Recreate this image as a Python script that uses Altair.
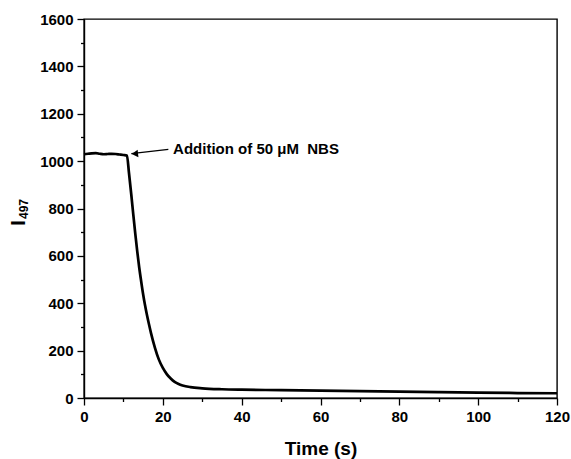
import altair as alt
import pandas as pd

# data
time_s = [0, 1, 2, 3, 4, 5, 6, 7, 8, 9, 10, 10.9, 11.4, 12.0, 12.5, 13.0, 13.5,
          14.0, 14.5, 15.0, 15.5, 16.0, 16.5, 17.0, 18.0, 19.0, 20.0, 21.0, 22.0,
          23.0, 24.0, 25.0, 27.0, 30.0, 35, 40, 50, 60, 70, 80, 90, 100, 110, 120]
intensity = [1029, 1031, 1033, 1034, 1031, 1029, 1030, 1031, 1030, 1028, 1026,
             1024, 952, 858, 775, 695, 620, 552, 493, 438, 390, 348, 310, 274,
             212, 162, 127, 101, 82, 68, 59, 53, 46, 41, 37, 35, 33, 31, 29, 27,
             25, 23, 21, 20]

x_major = list(range(0, 121, 20))
x_minor = list(range(10, 121, 20))
y_major = list(range(0, 1601, 200))
y_minor = list(range(100, 1601, 200))

note_text = ["Addition of 50 \u03bcM\u00a0 NBS"]
note_x = [22.6]
note_y = [1030]
arrow_x = [21.4]
arrow_x2 = [12.0]
arrow_y = [1050]
arrow_y2 = [1032]
head_x = [12.9]
head_y = [1031]

FONT = "Liberation Sans"

df = pd.DataFrame({"t": time_s, "v": intensity})

xscale = alt.Scale(domain=[0, 120], nice=False, zero=False)
yscale = alt.Scale(domain=[0, 1600], nice=False, zero=False)

x_axis = alt.Axis(
    values=x_major, format="d", orient="bottom", tickSize=7,
    labelOverlap=False, labelFlush=False, grid=False,
    title="Time (s)", titleFontSize=19, titleFont=FONT, titleFontWeight="bold",
    titleY=56, titleBaseline="alphabetic", titleColor="black",
)
y_axis = alt.Axis(
    values=y_major, format="d", orient="left", tickSize=7,
    labelOverlap=False, labelFlush=False, grid=False, title=None,
)
x_axis_minor = alt.Axis(values=x_minor, orient="bottom", tickSize=3.5, labels=False,
                        domain=False, grid=False, title=None)
y_axis_minor = alt.Axis(values=y_minor, orient="left", tickSize=3.5, labels=False,
                        domain=False, grid=False, title=None)

line = alt.Chart(df).mark_line(color="black", strokeWidth=2.7, interpolate="monotone").encode(
    x=alt.X("t:Q", scale=xscale, axis=x_axis),
    y=alt.Y("v:Q", scale=yscale, axis=y_axis),
)

minor = alt.Chart(df).mark_point(opacity=0).encode(
    x=alt.X("t:Q", scale=xscale, axis=x_axis_minor),
    y=alt.Y("v:Q", scale=yscale, axis=y_axis_minor),
)

arrow_df = pd.DataFrame({"x": arrow_x, "x2": arrow_x2, "y": arrow_y, "y2": arrow_y2})
arrow = alt.Chart(arrow_df).mark_rule(color="black", strokeWidth=1.2).encode(
    x=alt.X("x:Q", scale=xscale, axis=None), x2="x2:Q",
    y=alt.Y("y:Q", scale=yscale, axis=None), y2="y2:Q"
)

head_df = pd.DataFrame({"x": head_x, "y": head_y})
head = alt.Chart(head_df).mark_point(
    shape="triangle-left", filled=True, color="black", size=55, opacity=1, angle=354
).encode(x=alt.X("x:Q", scale=xscale, axis=None), y=alt.Y("y:Q", scale=yscale, axis=None))

note_df = pd.DataFrame({"x": note_x, "y": note_y, "txt": note_text})
note = alt.Chart(note_df).mark_text(
    align="left", baseline="alphabetic", font=FONT, fontWeight="bold", fontSize=15, color="black"
).encode(x=alt.X("x:Q", scale=xscale, axis=None), y=alt.Y("y:Q", scale=yscale, axis=None),
         text="txt:N")

ytitle_main = alt.Chart(pd.DataFrame({"s": ["I"]})).mark_text(
    align="left", baseline="alphabetic", angle=270, font=FONT, fontWeight="bold",
    fontSize=21, color="black"
).encode(x=alt.value(-59), y=alt.value(207), text="s:N")

ytitle_sub = alt.Chart(pd.DataFrame({"s": ["497"]})).mark_text(
    align="left", baseline="alphabetic", angle=270, font=FONT, fontWeight="bold",
    fontSize=12, color="black"
).encode(x=alt.value(-56), y=alt.value(200), text="s:N")

chart = alt.layer(line, minor, arrow, head, note, ytitle_main, ytitle_sub).resolve_axis(
    x="independent", y="independent"
).properties(
    width=473, height=379,
    padding={"left": 84, "top": 19, "right": 14, "bottom": 61},
    autosize=alt.AutoSizeParams(type="none"),
    background="white",
).configure_view(
    stroke="black", strokeWidth=1.4
).configure_axis(
    domainColor="black", domainWidth=1.4, tickColor="black", tickWidth=1.3,
    labelFont=FONT, labelFontWeight="bold", labelFontSize=15, labelColor="black",
    labelPadding=4,
)

chart.save("out.html", embed_options={"renderer": "svg", "actions": False})
